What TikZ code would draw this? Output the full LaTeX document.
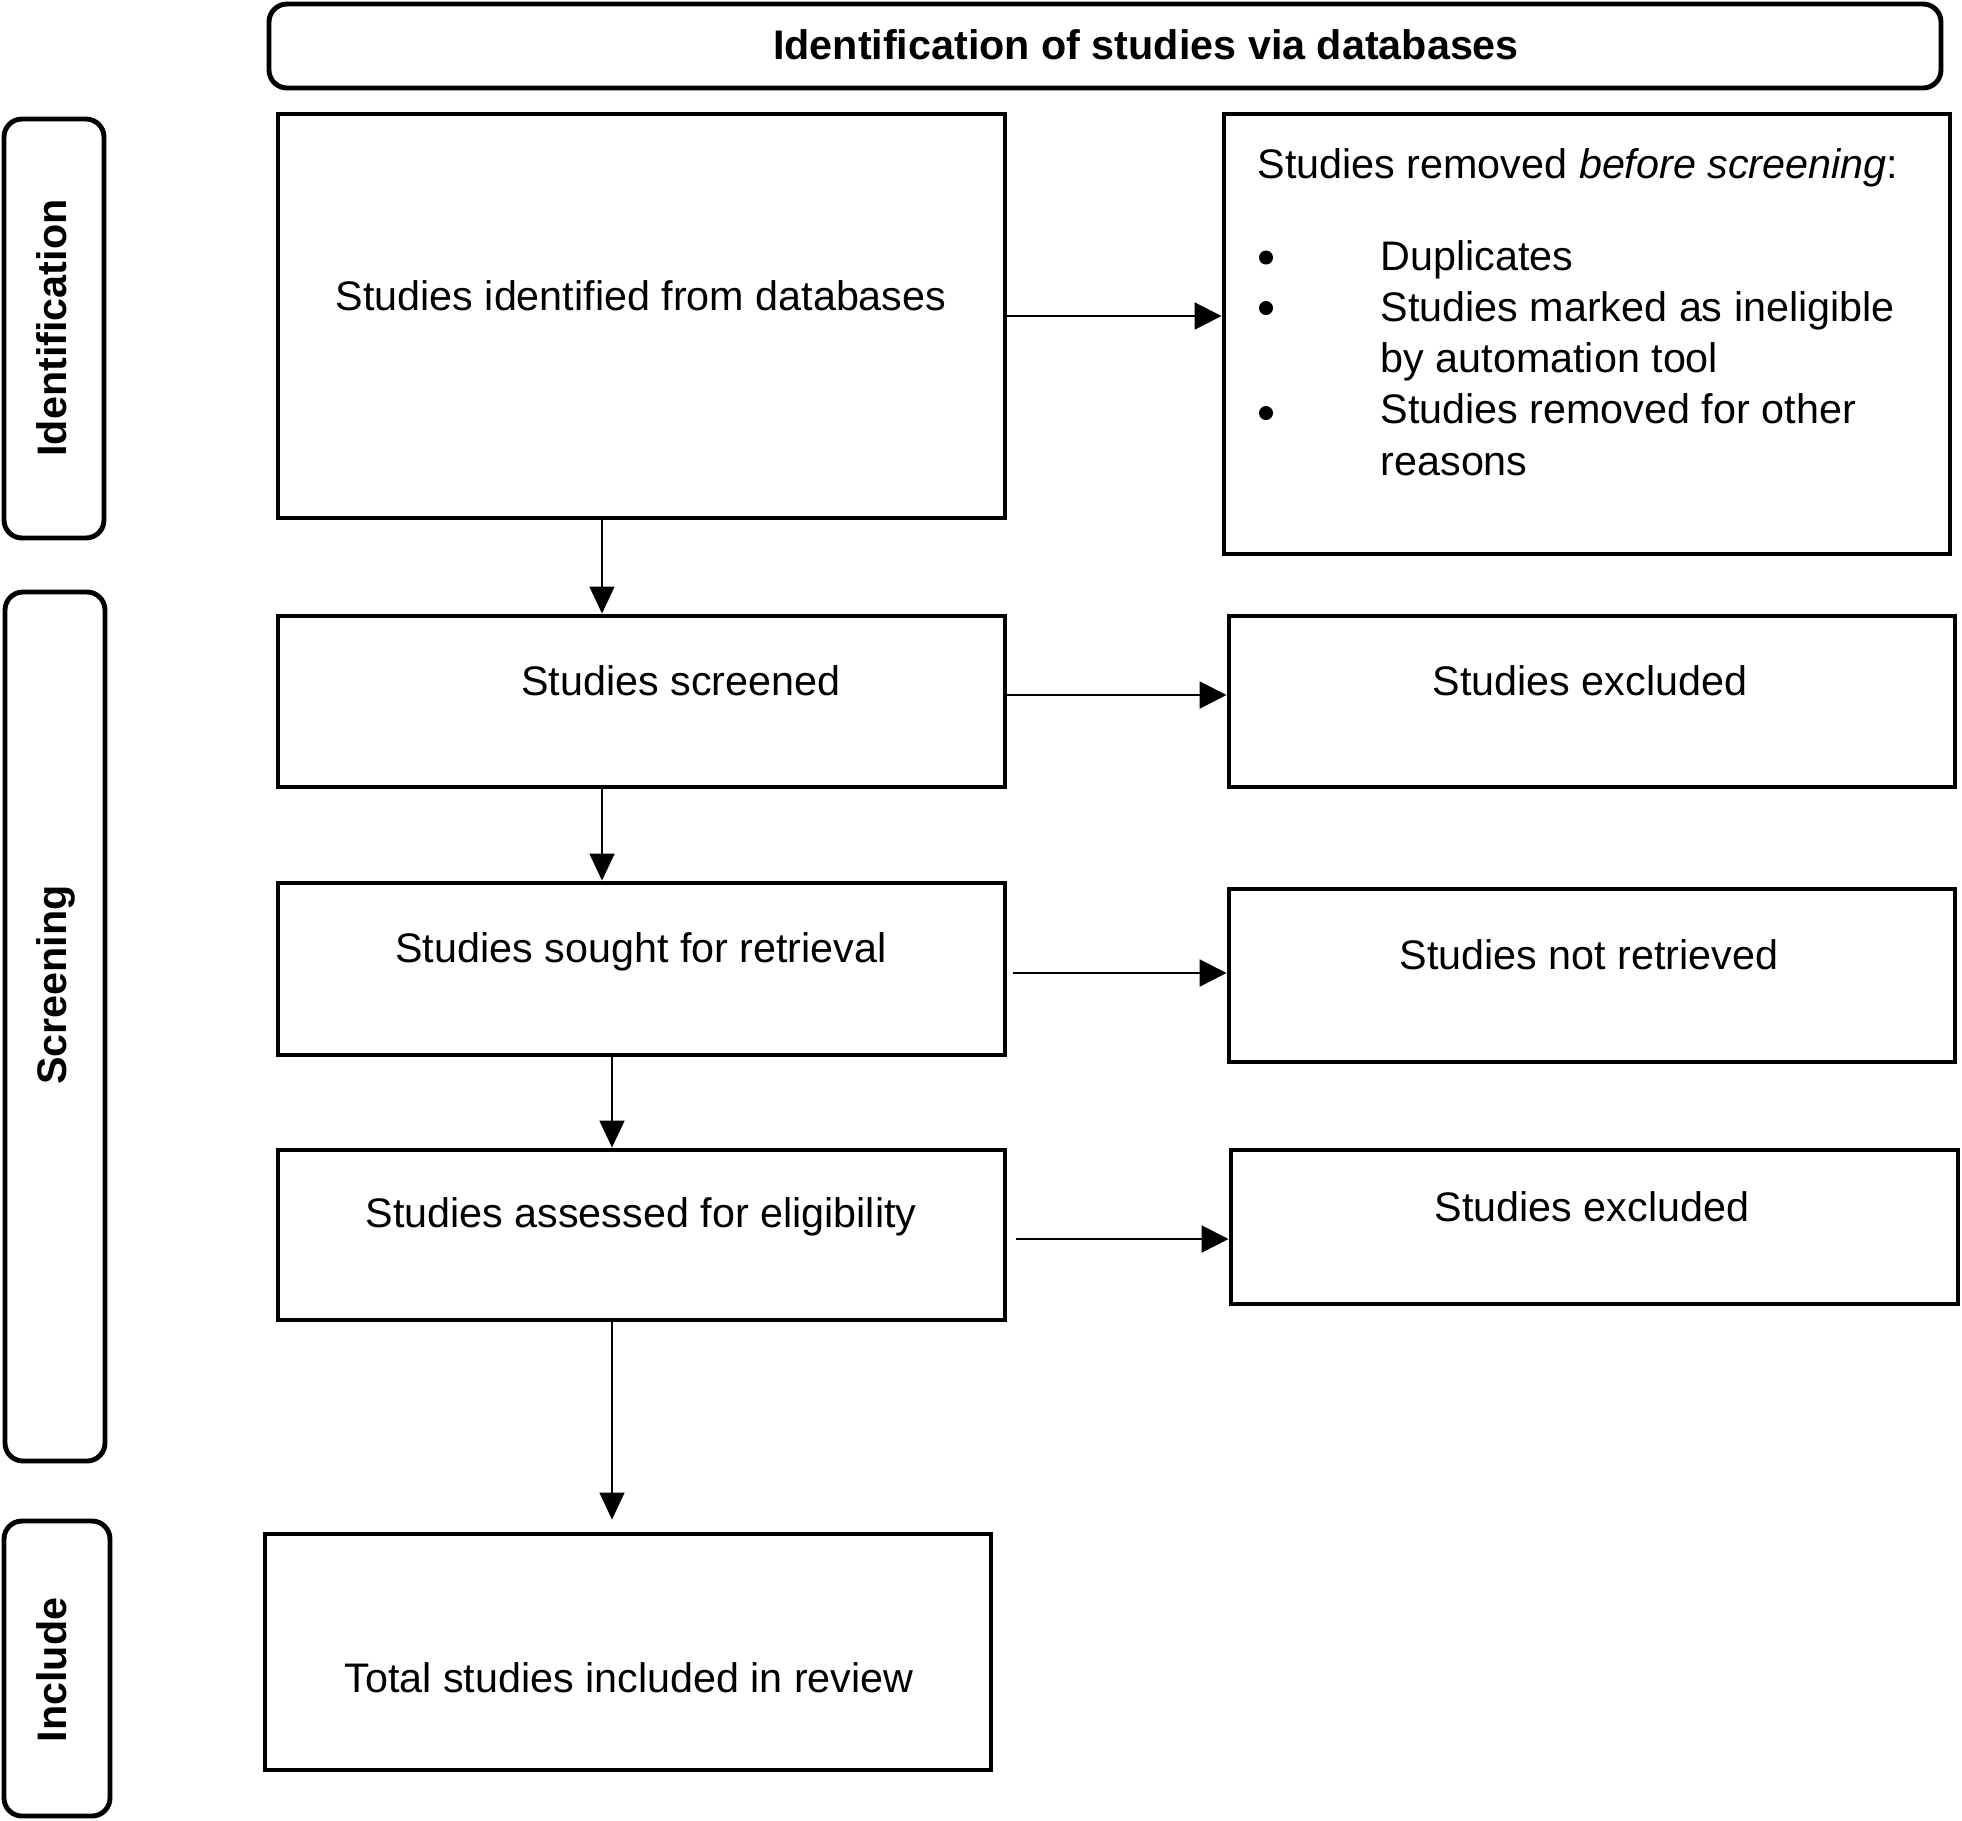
\documentclass[tikz,border=0pt]{standalone}
\usepackage{fontspec}
\setmainfont{Liberation Sans}
\usetikzlibrary{arrows.meta, positioning}

\tikzset{
    box/.style={draw, line width=1.4pt, inner sep=0pt},
    stage/.style={draw, line width=1.4pt, inner sep=0pt, rounded corners=0.18cm},
    txt/.style={anchor=base, inner sep=0pt, font=\fontsize{11.75}{14.6}\selectfont},
    bul/.style={circle, fill, inner sep=0pt, minimum size=0.14cm},
    harr/.style={-{Triangle[length=0.27cm, width=0.27cm]}, line width=0.6pt},
    varr/.style={-{Triangle[length=0.27cm, width=0.25cm]}, line width=0.45pt},
}

\begin{document}
\begin{tikzpicture}
    \useasboundingbox (0,0) rectangle (19.62,-18.20);

    % stages
    \node[stage, minimum width=16.72cm, minimum height=0.84cm] (title) at (11.05,-0.46) {};
    \node[txt, font=\fontsize{11.75}{14.6}\selectfont\bfseries] (titleT) at (11.46,-0.59) {Identification of studies via databases};
    \node[stage, minimum width=1.00cm, minimum height=4.19cm] (sideId) at (0.54,-3.285) {};
    \node[stage, minimum width=1.00cm, minimum height=8.69cm] (sideScr) at (0.55,-10.265) {};
    \node[stage, minimum width=1.06cm, minimum height=2.95cm] (sideInc) at (0.57,-16.685) {};
    \node[txt, rotate=90, font=\fontsize{11.75}{14.6}\selectfont\bfseries] (sideIdT) at (0.67,-3.28) {Identification};
    \node[txt, rotate=90, font=\fontsize{11.75}{14.6}\selectfont\bfseries] (sideScrT) at (0.66,-9.85) {Screening};
    \node[txt, rotate=90, font=\fontsize{11.75}{14.6}\selectfont\bfseries] (sideIncT) at (0.66,-16.70) {Include};

    % left column
    \node[box, minimum width=7.27cm, minimum height=4.04cm] (ident) at (6.415,-3.16) {};
    \node[box, minimum width=7.27cm, minimum height=1.71cm] (screened) at (6.415,-7.015) {};
    \node[box, minimum width=7.27cm, minimum height=1.72cm] (sought) at (6.415,-9.69) {};
    \node[box, minimum width=7.27cm, minimum height=1.70cm] (assessed) at (6.415,-12.35) {};
    \node[box, minimum width=7.26cm, minimum height=2.36cm] (total) at (6.28,-16.52) {};
    \node[txt] (identT) at (6.41,-3.10) {Studies identified from databases};
    \node[txt] (screenedT) at (6.81,-6.95) {Studies screened};
    \node[txt] (soughtT) at (6.41,-9.62) {Studies sought for retrieval};
    \node[txt] (assessedT) at (6.41,-12.27) {Studies assessed for eligibility};
    \node[txt] (totalT) at (6.29,-16.92) {Total studies included in review};

    % right column
    \node[box, minimum width=7.26cm, minimum height=4.40cm] (removed) at (15.87,-3.34) {};
    \node[box, minimum width=7.26cm, minimum height=1.71cm] (excl1) at (15.92,-7.015) {};
    \node[box, minimum width=7.26cm, minimum height=1.73cm] (notret) at (15.92,-9.755) {};
    \node[box, minimum width=7.27cm, minimum height=1.54cm] (excl2) at (15.945,-12.27) {};
    \node[txt, anchor=base west] (removedT) at (12.57,-1.78) {Studies removed \textit{before screening}:};
    \node[bul] (bulA) at (12.66,-2.575) {};
    \node[bul] (bulB) at (12.66,-3.08) {};
    \node[bul] (bulC) at (12.66,-4.13) {};
    \node[txt, anchor=base west] (itemA) at (13.80,-2.70) {Duplicates};
    \node[txt, anchor=base west] (itemB) at (13.80,-3.21) {Studies marked as ineligible};
    \node[txt, anchor=base west] (itemB2) at (13.80,-3.72) {by automation tool};
    \node[txt, anchor=base west] (itemC) at (13.80,-4.235) {Studies removed for other};
    \node[txt, anchor=base west] (itemC2) at (13.80,-4.75) {reasons};
    \node[txt] (excl1T) at (15.90,-6.95) {Studies excluded};
    \node[txt] (notretT) at (15.89,-9.69) {Studies not retrieved};
    \node[txt] (excl2T) at (15.92,-12.21) {Studies excluded};

    % arrows
    \coordinate (colA) at (6.02,0);
    \coordinate (colB) at (6.12,0);
    \coordinate (outB) at ([yshift=0.065cm]screened.east);
    \coordinate (outC) at ([yshift=-0.04cm]sought.east);
    \coordinate (outD) at ([yshift=-0.04cm]assessed.east);
    \draw[harr] (ident.east) -- (ident.east -| removed.west);
    \draw[harr] (outB) -- (outB -| excl1.west);
    \draw[harr, shorten <=0.06cm] (outC) -- (outC -| notret.west);
    \draw[harr, shorten <=0.09cm] (outD) -- (outD -| excl2.west);
    \draw[varr] (ident.south -| colA) -- (screened.north -| colA);
    \draw[varr] (screened.south -| colA) -- (sought.north -| colA);
    \draw[varr] (sought.south -| colB) -- (assessed.north -| colB);
    \draw[varr, shorten >=0.12cm] (assessed.south -| colB) -- (total.north -| colB);
\end{tikzpicture}
\end{document}
